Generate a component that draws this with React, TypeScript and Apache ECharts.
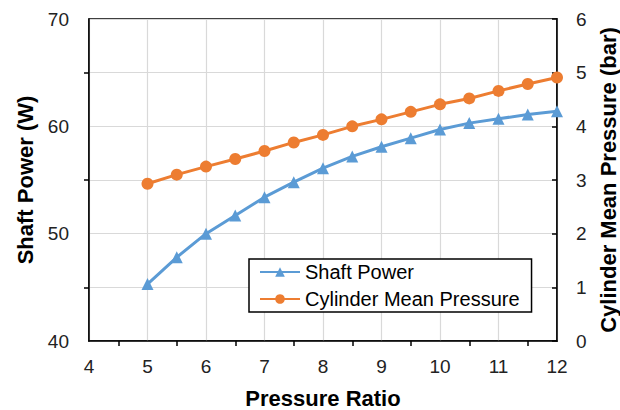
import React, { useEffect, useRef } from "react";
import * as echarts from "echarts";

const pressureRatio = [5, 5.5, 6, 6.5, 7, 7.5, 8, 8.5, 9, 9.5, 10, 10.5, 11, 11.5, 12];
const shaftPower = [45.3, 47.8, 50.0, 51.7, 53.4, 54.8, 56.1, 57.2, 58.1, 58.9, 59.7, 60.3, 60.7, 61.1, 61.4];
const cylinderPressure = [2.93, 3.1, 3.25, 3.39, 3.54, 3.7, 3.84, 4.0, 4.13, 4.27, 4.41, 4.52, 4.66, 4.79, 4.91];

const FONT = "'Liberation Sans', Arial, sans-serif";

export default function App() {
  const ref = useRef<HTMLDivElement>(null);
  useEffect(() => {
    if (!ref.current) return;
    const chart = echarts.init(ref.current, undefined, { renderer: "svg" });
    const labelStyle = { fontFamily: FONT, fontSize: 19, color: "#222" };
    const nameStyle = { fontFamily: FONT, fontSize: 22, fontWeight: "bold" as const, color: "#000" };
    chart.setOption({
      animation: false,
      textStyle: { fontFamily: FONT },
      grid: {
        left: 89,
        right: 63,
        top: 19,
        bottom: 69,
        containLabel: false,
        outerBoundsMode: "none",
        show: true,
        borderColor: "#000",
        borderWidth: 1.5,
        backgroundColor: "transparent",
      },
      legend: {
        orient: "vertical",
        left: 249,
        top: 259,
        itemWidth: 40,
        itemHeight: 12,
        itemGap: 7,
        padding: [3, 12, 3, 10],
        borderColor: "#000",
        borderWidth: 1.5,
        backgroundColor: "#fff",
        textStyle: { fontFamily: FONT, fontSize: 20, color: "#000" },
        data: ["Shaft Power", "Cylinder Mean Pressure"],
      },
      xAxis: {
        type: "value",
        min: 4,
        max: 12,
        interval: 1,
        name: "Pressure Ratio",
        nameLocation: "middle",
        nameGap: 46,
        nameTextStyle: nameStyle,
        axisLine: { show: true, onZero: false, lineStyle: { color: "#000", width: 1.5 } },
        axisTick: { show: false },
        minorTick: { show: true, splitNumber: 2, length: 5, lineStyle: { color: "#000", width: 1.5 } },
        axisLabel: { ...labelStyle, margin: 16 },
        splitLine: { show: true, lineStyle: { color: "#d9d9d9", width: 1.2 } },
        minorSplitLine: { show: false },
      },
      yAxis: [
        {
          type: "value",
          min: 40,
          max: 70,
          interval: 10,
          name: "Shaft Power (W)",
          nameLocation: "middle",
          nameGap: 50,
          nameTextStyle: nameStyle,
          axisLine: { show: true, lineStyle: { color: "#000", width: 1.5 } },
          axisTick: { show: false },
          minorTick: { show: true, splitNumber: 2, length: 5, lineStyle: { color: "#000", width: 1.5 } },
          axisLabel: { ...labelStyle, margin: 20 },
          splitLine: { show: true, lineStyle: { color: "#d9d9d9", width: 1.2 } },
          minorSplitLine: { show: true, lineStyle: { color: "#d9d9d9", width: 1.2 } },
        },
        {
          type: "value",
          min: 0,
          max: 6,
          interval: 1,
          position: "right",
          name: "Cylinder Mean Pressure (bar)",
          nameLocation: "middle",
          nameGap: 40,
          nameRotate: 90,
          nameTextStyle: nameStyle,
          axisLine: { show: true, lineStyle: { color: "#000", width: 1.5 } },
          axisTick: { show: true, inside: true, length: 5, lineStyle: { color: "#000", width: 1.5 } },
          axisLabel: { ...labelStyle, margin: 19 },
          splitLine: { show: false },
        },
      ],
      series: [
        {
          name: "Shaft Power",
          type: "line",
          yAxisIndex: 0,
          data: pressureRatio.map((x, i) => [x, shaftPower[i]]),
          symbol: "triangle",
          symbolSize: 12,
          color: "#5B9BD5",
          lineStyle: { width: 3, color: "#5B9BD5" },
          itemStyle: { color: "#5B9BD5" },
        },
        {
          name: "Cylinder Mean Pressure",
          type: "line",
          yAxisIndex: 1,
          data: pressureRatio.map((x, i) => [x, cylinderPressure[i]]),
          symbol: "circle",
          symbolSize: 12,
          color: "#ED7D31",
          lineStyle: { width: 3, color: "#ED7D31" },
          itemStyle: { color: "#ED7D31" },
        },
      ],
    });
    return () => chart.dispose();
  }, []);
  return <div ref={ref} style={{ width: 620, height: 410, position: "fixed", left: 0, top: 0, background: "#fff" }} />;
}
